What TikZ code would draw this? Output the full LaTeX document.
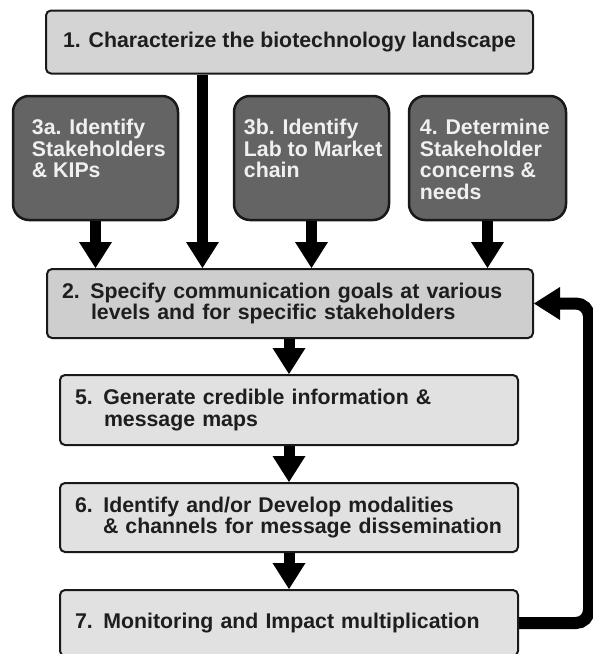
\documentclass[tikz,border=0pt]{standalone}
\usepackage{fontspec}
\setmainfont{Liberation Sans}
\usepackage{xcolor}
\usepackage{tikz}
\usetikzlibrary{arrows.meta,calc}

\definecolor{landgrey}{RGB}{212,212,212}
\definecolor{goalgrey}{RGB}{206,206,206}
\definecolor{stepgrey}{RGB}{225,225,225}
\definecolor{stakegrey}{RGB}{100,100,100}
\definecolor{inkgrey}{RGB}{30,30,30}

\begin{document}
\begin{tikzpicture}[y=-1pt,x=1pt,
	lightbox/.style={draw=black!90,line width=2pt,rounded corners=5pt,inner xsep=15pt,inner ysep=0pt,font=\StepFont,text=inkgrey},
	darkbox/.style={draw=black!90,line width=2.5pt,rounded corners=16pt,fill=stakegrey},
	darktext/.style={anchor=north west,inner sep=0pt,align=left,font=\StepFont,text=white!94!black},
	bigarrow/.style={line width=#1,-{Triangle[width=33pt,length=26pt,line width=0pt]}},
	bigarrow/.default=11pt]
	\newcommand\StepFont{\bfseries\fontsize{21.3}{21.7}\selectfont}

	\useasboundingbox (0,0) rectangle (593,654);

	\node[lightbox,fill=landgrey,minimum width=487pt,minimum height=63pt,align=center] (b1) at (289.5,42) {1. Characterize the biotechnology landscape};

	\node[darkbox,minimum width=165pt,minimum height=124pt] (b3a) at (95.5,158) {};
	\node[darkbox,minimum width=155pt,minimum height=124pt] (b3b) at (311.5,158) {};
	\node[darkbox,minimum width=157pt,minimum height=124pt] (b4) at (487.5,158) {};
	\node[darktext] (t3a) at ([shift={(20,24)}]b3a.north west) {3a. Identify\\Stakeholders\\\& KIPs};
	\node[darktext] (t3b) at ([shift={(11,24)}]b3b.north west) {3b. Identify\\Lab to Market\\chain};
	\node[darktext] (t4) at ([shift={(12,24)}]b4.north west) {4. Determine\\Stakeholder\\concerns \&\\needs};

	\node[lightbox,fill=goalgrey,text width=456pt,minimum height=69pt,align=left] (b2) at (290,303.5) {2. Specify communication goals at various\\\hspace*{29pt}\mbox{levels and for specific stakeholders}};
	\node[lightbox,fill=stepgrey,text width=428pt,minimum height=70pt,align=left] (b5) at (289,410) {5. Generate credible information \&\\\hspace*{29pt}\mbox{message maps}};
	\node[lightbox,fill=stepgrey,text width=428pt,minimum height=69pt,align=left] (b6) at (289,517.5) {6. Identify and/or Develop modalities\\\hspace*{28pt}\mbox{\& channels for message dissemination}};
	\node[lightbox,fill=stepgrey,text width=428pt,minimum height=66pt,align=left] (b7) at (289,623) {7. Monitoring and Impact multiplication};

	\coordinate (s1) at ($(b1.south west)!0.322!(b1.south east)$);
	\draw[bigarrow] (s1) -- (s1 |- b2.north);
	\draw[bigarrow] (b3a.south) -- (b3a.south |- b2.north);
	\draw[bigarrow] (b3b.south) -- (b3b.south |- b2.north);
	\draw[bigarrow] (b4.south) -- (b4.south |- b2.north);
	\draw[bigarrow] (b2.south -| b5.north) -- (b5.north);
	\draw[bigarrow] (b5.south) -- (b6.north);
	\draw[bigarrow] (b6.south) -- (b7.north);
	\draw[bigarrow=12pt,rounded corners=13pt] (b7.east) -- ++(70,0) |- (b2.east);
\end{tikzpicture}
\end{document}
